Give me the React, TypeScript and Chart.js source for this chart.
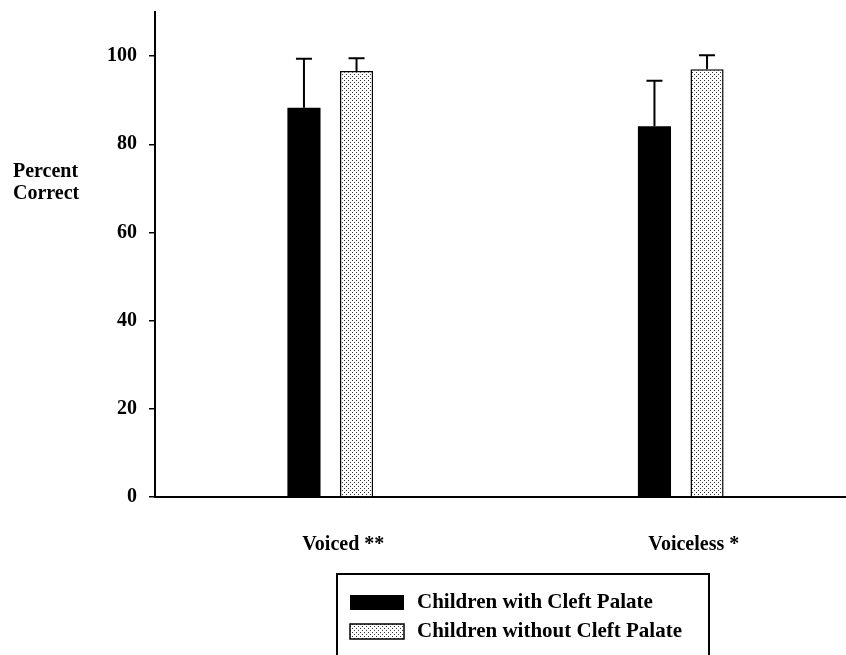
import React, { useEffect, useRef } from "react";
import { Chart, registerables } from "chart.js";

Chart.register(...registerables);

const categories = ["Voiced **", "Voiceless *"];
const withCleft = [88.3, 84.1];
const withCleftErr = [11.1, 10.3];
const withoutCleft = [96.6, 97.0];
const withoutCleftErr = [2.9, 3.2];
const seriesLabels = ["Children with Cleft Palate", "Children without Cleft Palate"];
const yTicks = [0, 20, 40, 60, 80, 100];

const FONT = "'Liberation Serif', 'Times New Roman', serif";

function makeDotPattern(): CanvasPattern | string {
  const c = document.createElement("canvas");
  c.width = 4;
  c.height = 4;
  const g = c.getContext("2d");
  if (!g) return "#ccc";
  g.fillStyle = "#ffffff";
  g.fillRect(0, 0, 4, 4);
  g.fillStyle = "#333333";
  g.fillRect(0, 0, 1, 1);
  g.fillRect(2, 2, 1, 1);
  const p = g.createPattern(c, "repeat");
  return p || "#ccc";
}

export default function App() {
  const ref = useRef<HTMLCanvasElement | null>(null);

  useEffect(() => {
    if (!ref.current) return;
    const dots = makeDotPattern();
    const errs = [withCleftErr, withoutCleftErr];

    const errorBars = {
      id: "errorBars",
      afterDatasetsDraw(chart: any) {
        const ctx = chart.ctx;
        const ys = chart.scales.y;
        ctx.save();
        ctx.strokeStyle = "#000";
        ctx.lineWidth = 2;
        chart.data.datasets.forEach((ds: any, di: number) => {
          const meta = chart.getDatasetMeta(di);
          meta.data.forEach((bar: any, i: number) => {
            const v = ds.data[i];
            const top = ys.getPixelForValue(v + errs[di][i]);
            const base = ys.getPixelForValue(v);
            ctx.beginPath();
            ctx.moveTo(bar.x, base);
            ctx.lineTo(bar.x, top);
            ctx.moveTo(bar.x - 8, top);
            ctx.lineTo(bar.x + 8, top);
            ctx.stroke();
          });
        });
        ctx.restore();
      },
    };

    const extras = {
      id: "extras",
      afterDraw(chart: any) {
        const ctx = chart.ctx;
        ctx.save();
        // y-axis title
        ctx.fillStyle = "#000";
        ctx.font = `bold 20px ${FONT}`;
        ctx.textAlign = "left";
        ctx.textBaseline = "middle";
        ctx.fillText("Percent", 13, 172);
        ctx.fillText("Correct", 13, 194);
        // legend box
        ctx.strokeStyle = "#000";
        ctx.lineWidth = 2;
        ctx.strokeRect(337, 574, 372, 100);
        const fills = [chart.data.datasets[0].backgroundColor, chart.data.datasets[1].backgroundColor];
        ctx.font = `bold 21px ${FONT}`;
        const rows = [602, 631];
        seriesLabels.forEach((lab, i) => {
          ctx.fillStyle = fills[i];
          ctx.fillRect(350, rows[i] - 7, 54, 15);
          if (i === 1) {
            ctx.lineWidth = 1.5;
            ctx.strokeRect(350, rows[i] - 7, 54, 15);
          }
          ctx.fillStyle = "#000";
          ctx.fillText(lab, 417, rows[i] + 1);
        });
        ctx.restore();
      },
    };

    const chart = new Chart(ref.current, {
      type: "bar",
      data: {
        labels: categories,
        datasets: [
          {
            label: seriesLabels[0],
            data: withCleft,
            backgroundColor: "#000000",
            borderWidth: 0,
            categoryPercentage: 0.3,
            barPercentage: 0.63,
          },
          {
            label: seriesLabels[1],
            data: withoutCleft,
            backgroundColor: dots as any,
            borderColor: "#000000",
            borderWidth: 1.5,
            categoryPercentage: 0.3,
            barPercentage: 0.63,
          },
        ],
      },
      options: {
        animation: false,
        responsive: false,
        maintainAspectRatio: false,
        layout: { padding: { top: 12, right: 0, left: 0, bottom: 0 } },
        plugins: {
          legend: { display: false },
          tooltip: { enabled: false },
        },
        scales: {
          x: {
            grid: { display: false, drawTicks: false },
            border: { display: true, color: "#000", width: 2 },
            ticks: {
              color: "#000",
              font: { family: FONT, size: 20, weight: "bold" },
              padding: 36,
              labelOffset: 13,
            },
            afterFit(scale: any) {
              scale.height = 158;
            },
          },
          y: {
            min: 0,
            max: 110,
            afterBuildTicks(scale: any) {
              scale.ticks = yTicks.map((v) => ({ value: v }));
            },
            grid: {
              drawOnChartArea: false,
              drawTicks: true,
              tickLength: 6,
              color: "#000",
              lineWidth: 1.5,
            },
            border: { display: true, color: "#000", width: 2 },
            ticks: {
              color: "#000",
              font: { family: FONT, size: 20, weight: "bold" },
              padding: 12,
            },
            afterFit(scale: any) {
              scale.width = 155;
              scale.paddingTop = 0;
              scale.paddingBottom = 0;
            },
          },
        },
      },
      plugins: [errorBars, extras],
    });
    return () => chart.destroy();
  }, []);

  return (
    <div style={{ position: "absolute", left: 0, top: 0, width: 846, height: 655, overflow: "hidden", background: "#fff" }}>
      <canvas ref={ref} width={856} height={655} style={{ width: 856, height: 655, display: "block" }} />
    </div>
  );
}
